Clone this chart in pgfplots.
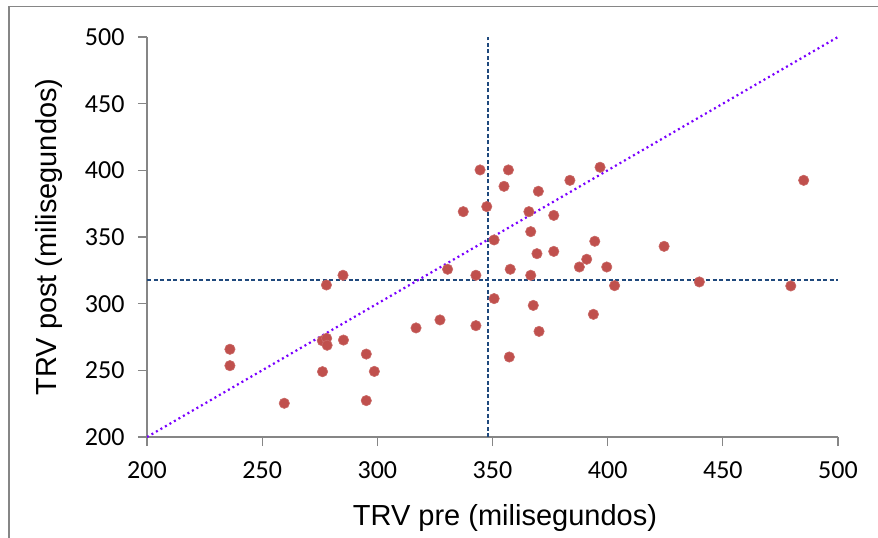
\documentclass[border=0pt]{standalone}
\usepackage{fontspec}
\setmainfont{Liberation Sans}
\newfontfamily\calibri{Carlito}
\usepackage{pgfplots}
\pgfplotsset{compat=1.18}
\definecolor{ptred}{HTML}{C0504D}
\definecolor{meanblue}{HTML}{1F497D}
\definecolor{diagviolet}{HTML}{7A00FF}
\definecolor{axgray}{HTML}{868686}
\begin{document}
\begin{tikzpicture}
\useasboundingbox (0,0) rectangle (878pt,538pt);
\draw[axgray, line width=1.5pt] (9pt,-2pt) -- (9pt,531.5pt) -- (880pt,531.5pt);
\begin{axis}[
  at={(147pt,101pt)}, anchor=south west,
  scale only axis, width=691pt, height=400pt,
  xmin=200, xmax=500, ymin=200, ymax=500,
  axis x line=bottom, axis y line=left,
  axis line style={axgray, line width=1.3pt, -},
  xtick={200,250,...,500}, ytick={200,250,...,500},
  tick align=outside, major tick length=9pt,
  tick style={axgray, line width=1.3pt},
  /pgf/number format/assume math mode=true,
  tick label style={font=\calibri\fontsize{26}{26}\selectfont},
  xticklabel style={yshift=-12pt},
  yticklabel style={xshift=-10pt},
  xlabel={TRV pre (milisegundos)},
  ylabel={TRV post (milisegundos)},
  label style={font=\fontsize{29}{29}\selectfont},
  xlabel style={at={(rel axis cs:0.518,0)}, anchor=base, yshift=-88pt},
  ylabel style={at={(rel axis cs:0,0.5)}, anchor=base, yshift=90pt},
]
\addplot[meanblue, line width=1.3pt, dash pattern=on 4pt off 2.5pt] coordinates {(348,200) (348,500)};
\addplot[meanblue, line width=1.3pt, dash pattern=on 4pt off 2.5pt] coordinates {(200,317.7) (500,317.7)};
\addplot[diagviolet, line width=2.2pt, dash pattern=on 2pt off 3.2pt] coordinates {(200,200) (500,500)};
\addplot[only marks, mark=*, mark size=5.2pt, mark options={fill=ptred, draw=ptred!85!white, line width=0.6pt}] coordinates {
(344.6,400.3) (337.3,369.0) (347.5,372.8) (350.7,347.8) (330.5,325.8)
(342.8,321.3) (350.7,303.8) (327.2,287.8) (316.8,281.8) (342.8,283.5)
(285.1,321.3) (277.9,314.0) (276.1,272.2) (278.0,274.0) (278.2,268.8)
(285.3,272.7) (236.0,265.8) (236.0,253.5) (295.2,262.2) (298.7,249.2)
(276.2,249.0) (259.6,225.3) (295.2,227.3)
(356.9,400.3) (355.0,388.0) (383.6,392.5) (396.7,402.3) (369.9,384.3)
(365.8,369.0) (376.6,366.2) (366.6,354.0) (394.4,346.8) (424.5,343.0)
(369.3,337.5) (376.6,339.2) (390.9,333.3) (387.7,327.5) (399.6,327.5)
(357.7,325.8) (366.6,321.3) (403.0,313.5) (439.8,316.3) (479.5,313.3)
(485.1,392.5) (367.7,298.7) (393.8,292.0) (370.2,279.2) (357.3,260.0)
};
\end{axis}
\end{tikzpicture}
\end{document}
